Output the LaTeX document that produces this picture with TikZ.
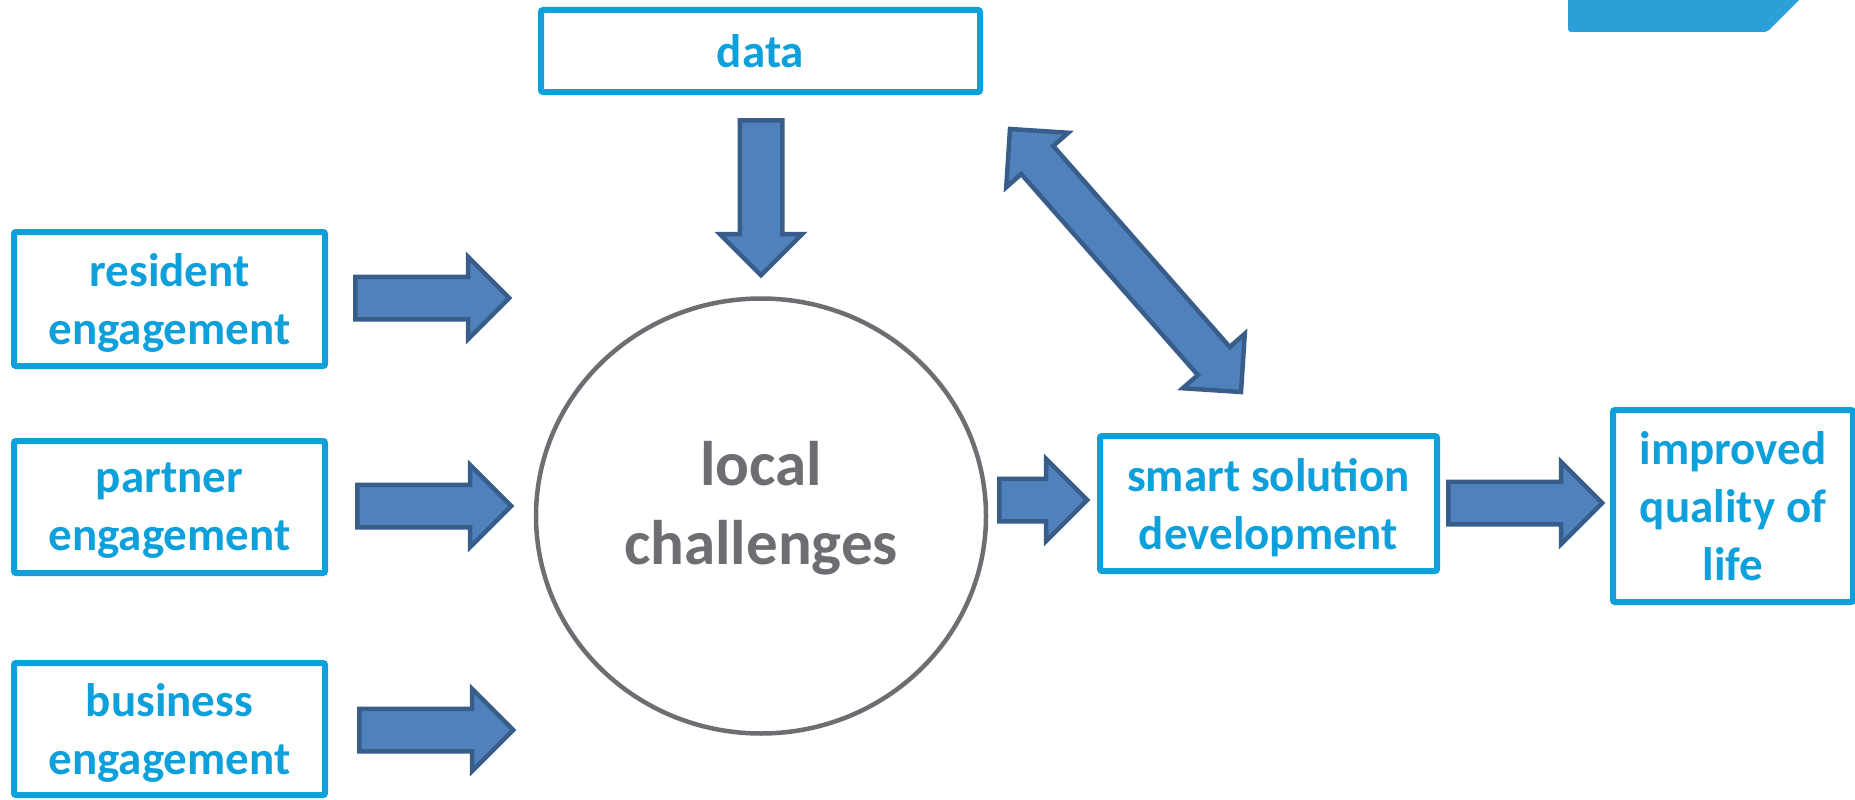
\documentclass[tikz,border=0pt]{standalone}
\usepackage{fontspec}
\setmainfont{Carlito}
\usetikzlibrary{calc}
\usetikzlibrary{shapes.geometric}
\usetikzlibrary{shapes.arrows}

\definecolor{boxblue}{RGB}{14,160,219}
\definecolor{arrowfill}{RGB}{79,129,189}
\definecolor{arrowline}{RGB}{56,93,138}
\definecolor{circlegray}{RGB}{109,110,113}
\definecolor{tabblue}{RGB}{42,159,216}

% block arrow from one named coordinate to another
\newcommand{\blockarrow}[3]{%
  \path let \p1=(#2), \p2=(#3), \n1={atan2(\y2-\y1,\x2-\x1)}, \n2={veclen(\x2-\x1,\y2-\y1)} in
    node[arrowshape, single arrow, rotate=\n1, minimum height=\n2, anchor=tail] (#1) at (\p1) {};}
\newcommand{\twowayarrow}[3]{%
  \path let \p1=(#2), \p2=(#3), \n1={atan2(\y2-\y1,\x2-\x1)}, \n2={veclen(\x2-\x1,\y2-\y1)} in
    node[arrowshape, double arrow, rotate=\n1, minimum height=\n2] (#1) at ($(#2)!0.5!(#3)$) {};}

\begin{document}
\begin{tikzpicture}[x=1pt,y=-1pt,
  infobox/.style={draw=boxblue, line width=6, rounded corners=2, text=boxblue, align=center,
    text depth=0pt, font=\fontsize{47}{58}\selectfont\bfseries},
  arrowshape/.style={draw=arrowline, fill=arrowfill, line width=4.5, inner sep=0, inner ysep=19,
    single arrow head extend=20, double arrow head extend=20}]

\useasboundingbox (0,0) rectangle (1855,800);

\fill[tabblue, rounded corners=3] (1568,-10) -- (1568,32) -- (1767,32) -- (1809,-10) -- cycle;

\node[infobox, minimum width=439, minimum height=82] (data) at (760.5,51) {data};
\node[infobox, minimum width=311, minimum height=134] (resident) at (169.5,299) {resident\\engagement};
\node[infobox, minimum width=311, minimum height=132] (partner) at (169.5,507) {partner\\engagement};
\node[infobox, minimum width=311, minimum height=132] (business) at (169.5,729) {business\\engagement};
\node[infobox, minimum width=337, minimum height=135] (smart) at (1268.5,503.5) {smart solution\\development};
\node[infobox, minimum width=240, minimum height=192] (life) at (1733,506) {improved\\quality of\\life};

\node[ellipse, draw=circlegray, line width=4.5, minimum width=450, minimum height=435, text=circlegray,
  align=center, text depth=26pt, font=\fontsize{63}{79}\selectfont\bfseries] (local) at (761,516) {local\\challenges};

\coordinate (t1) at (353,298);
\coordinate (h1) at (507,298);
\coordinate (t2) at (355,506);
\coordinate (h2) at (509,506);
\coordinate (t3) at (357,730);
\coordinate (h3) at (511,730);
\coordinate (td) at (761,118);
\coordinate (hd) at (761,273);
\coordinate (tc) at (997,500);
\coordinate (hc) at (1085,500);
\coordinate (ts) at (1446,503);
\coordinate (hs) at (1600,503);
\coordinate (u) at (1010,129);
\coordinate (v) at (1241,392);

\blockarrow{resarrow}{t1}{h1}
\blockarrow{pararrow}{t2}{h2}
\blockarrow{busarrow}{t3}{h3}
\blockarrow{dataarrow}{td}{hd}
\blockarrow{localarrow}{tc}{hc}
\blockarrow{smartarrow}{ts}{hs}
\twowayarrow{loop}{u}{v}

\end{tikzpicture}
\end{document}
